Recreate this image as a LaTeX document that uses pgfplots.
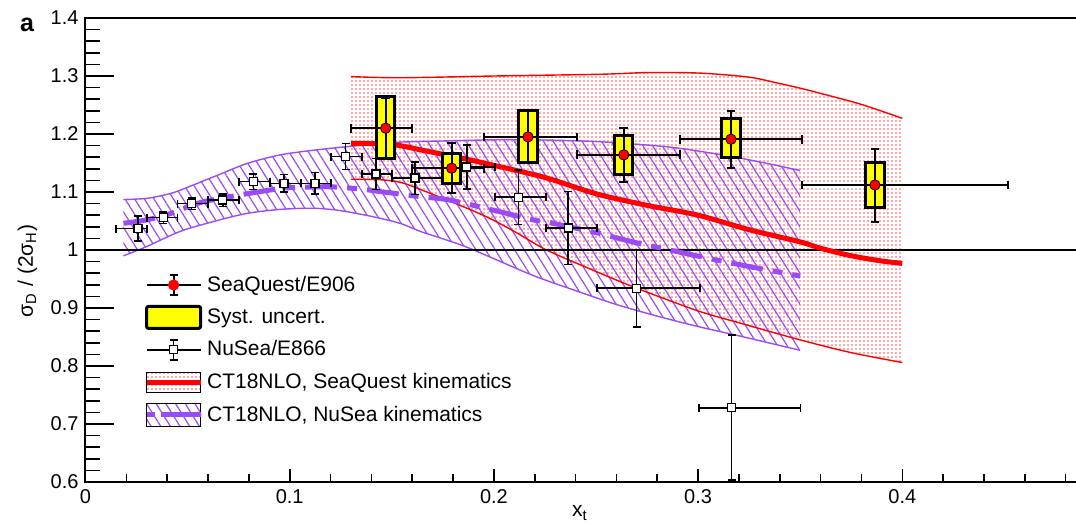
\documentclass[border=0pt]{standalone}
\usepackage{fontspec}
\setmainfont{Liberation Sans}
\usepackage{pgfplots}
\usepackage{pgfplotstable}
\pgfplotsset{compat=1.18}
\usepgfplotslibrary{fillbetween}
\usetikzlibrary{patterns.meta}
\definecolor{vio}{RGB}{155,75,245}
\definecolor{yel}{RGB}{255,255,0}
\definecolor{dotred}{RGB}{255,80,80}

\pgfplotstableread{
x      y      exm     exp     ey
0.0258 1.037  0.0110  0.0042  0.0215
0.0381 1.056  0.0081  0.0069  0.0100
0.0520 1.080  0.0070  0.0080  0.0100
0.0672 1.086  0.0072  0.0081  0.0110
0.0822 1.118  0.0069  0.0082  0.0135
0.0972 1.115  0.0068  0.0083  0.0155
0.1124 1.115  0.0069  0.0077  0.0185
0.1274 1.161  0.0072  0.0079  0.0225
0.1423 1.131  0.0070  0.0077  0.0270
0.1614 1.124  0.0114  0.0136  0.0280
0.1867 1.143  0.0117  0.0138  0.0380
0.2120 1.091  0.0115  0.0135  0.0470
0.2364 1.038  0.0109  0.0142  0.0630
0.2699 0.934  0.0193  0.0310  0.0670
0.3164 0.728  0.0159  0.0338  0.1250
}\nusea

\pgfplotstableread{
x      y      exm     exp     ey
0.1470 1.210  0.0170  0.0130  0.052
0.1793 1.141  0.0193  0.0157  0.043
0.2167 1.195  0.0217  0.0238  0.044
0.2636 1.164  0.0231  0.0274  0.046
0.3161 1.191  0.0251  0.0349  0.049
0.3866 1.112  0.0356  0.0650  0.063
}\seaquest

\begin{document}
\begin{tikzpicture}
\begin{axis}[
  at={(0pt,0pt)}, anchor=south west,
  scale only axis, width=500.3pt, height=232pt,
  xmin=0, xmax=0.49, ymin=0.6, ymax=1.4,
  axis line style={black, line width=1pt},
  xtick pos=bottom, ytick pos=left,
  tick align=inside,
  xtick={0,0.1,0.2,0.3,0.4},
  xticklabels={0,0.1,0.2,0.3,0.4},
  minor xtick={0.02,0.04,0.06,0.08,0.12,0.14,0.16,0.18,0.22,0.24,0.26,0.28,0.32,0.34,0.36,0.38,0.42,0.44,0.46,0.48},
  ytick={0.6,0.7,0.8,0.9,1,1.1,1.2,1.3,1.4},
  yticklabels={0.6,0.7,0.8,0.9,1,1.1,1.2,1.3,1.4},
  minor y tick num=4,
  xtick style={black, line width=0.8pt, /pgfplots/major tick length=6.5pt, /pgfplots/minor tick length=4pt},
  ytick style={black, line width=0.8pt, /pgfplots/major tick length=14pt, /pgfplots/minor tick length=7pt},
  tick label style={font=\fontsize{10}{12}\selectfont},
  /pgf/number format/assume math mode=true,
  xlabel={x\textsubscript{t}},
  ylabel={σ\textsubscript{D} / (2σ\textsubscript{H})},
  label style={font=\fontsize{10.5}{12.6}\selectfont},
  xlabel style={at={(axis description cs:0.494,-0.067)}, anchor=center},
  ylabel style={at={(axis description cs:-0.058,0.455)}, anchor=center},
  legend style={at={(axis cs:0.0285,0.8276)}, anchor=west, draw=none, fill=none,
    inner sep=0pt, row sep=3.2pt, font=\fontsize{10.5}{12.6}\selectfont},
  legend cell align=left,
]
% CT18 SeaQuest band
\addplot[name path=rU, red, line width=0.7pt, smooth, forget plot] coordinates {
(0.13,1.299)(0.154,1.297)(0.2,1.300)(0.252,1.303)(0.276,1.306)(0.301,1.305)(0.325,1.298)(0.34,1.287)(0.35,1.279)(0.36,1.270)(0.38,1.251)(0.4,1.227)};
\addplot[name path=rL, red, line width=0.7pt, smooth, forget plot] coordinates {
(0.13,1.122)(0.145,1.121)(0.155,1.116)(0.165,1.103)(0.18,1.082)(0.1965,1.057)(0.21,1.032)(0.2258,1.0)(0.25,0.963)(0.27,0.934)(0.30,0.895)(0.3205,0.874)(0.35,0.845)(0.375,0.823)(0.4,0.806)};
\addplot[pattern={Dots[distance=2pt, radius=0.4pt]}, pattern color=dotred, forget plot] fill between[of=rU and rL];
% CT18 NuSea band
\addplot[name path=pU, vio, line width=0.7pt, smooth, forget plot] coordinates {
(0.0186,1.087)(0.03,1.089)(0.04,1.096)(0.0463,1.103)(0.0626,1.126)(0.079,1.149)(0.0953,1.164)(0.1116,1.172)(0.1246,1.177)(0.14,1.182)(0.154,1.186)(0.175,1.188)(0.2,1.190)(0.219,1.190)(0.25,1.187)(0.2847,1.178)(0.31,1.165)(0.33,1.152)(0.35,1.137)};
\addplot[name path=pL, vio, line width=0.7pt, smooth, forget plot] coordinates {
(0.0186,0.990)(0.03,1.006)(0.0463,1.032)(0.0626,1.049)(0.079,1.063)(0.0953,1.070)(0.1116,1.072)(0.1246,1.068)(0.14,1.058)(0.154,1.046)(0.164,1.032)(0.1736,1.021)(0.1867,1.005)(0.2,0.985)(0.22,0.955)(0.24,0.930)(0.26,0.906)(0.28,0.886)(0.30,0.868)(0.32,0.852)(0.35,0.827)};
\addplot[pattern={Lines[angle=-58, distance=4.1pt, line width=0.6pt]}, pattern color=vio, forget plot] fill between[of=pU and pL];
% line at 1
\addplot[black, line width=0.75pt, forget plot] coordinates {(0,1) (0.49,1)};
% central curves
\addplot[red, line width=2.5pt, smooth, forget plot] coordinates {
(0.13,1.184)(0.15,1.182)(0.165,1.172)(0.175,1.165)(0.19,1.154)(0.2,1.146)(0.225,1.125)(0.25,1.097)(0.275,1.077)(0.3,1.060)(0.325,1.035)(0.35,1.014)(0.36,1.003)(0.375,0.990)(0.39,0.981)(0.4,0.977)};
\addplot[vio, line width=2.5pt, smooth, dash pattern=on 16pt off 5pt on 5pt off 5pt, forget plot] coordinates {
(0.0186,1.046)(0.03,1.052)(0.04,1.061)(0.052,1.077)(0.06,1.085)(0.0757,1.095)(0.0953,1.106)(0.105,1.108)(0.12,1.109)(0.135,1.105)(0.146,1.100)(0.164,1.092)(0.1785,1.086)(0.203,1.066)(0.219,1.052)(0.2275,1.047)(0.25,1.030)(0.268,1.014)(0.294,0.994)(0.317,0.977)(0.35,0.955)};
% NuSea data
\addplot[black, line width=0.8pt, only marks, mark=square*, mark size=2pt,
  mark options={fill=white, draw=black, line width=0.7pt}, forget plot,
  error bars/.cd, x dir=both, x explicit, y dir=both, y explicit,
  error bar style={line width=0.8pt, black},
  error mark options={rotate=90, mark size=2pt, line width=0.8pt, black}]
  table[x=x, y=y, x error plus=exp, x error minus=exm, y error=ey] {\nusea};
% systematic boxes
\addplot[fill=yel, draw=black, line width=1.5pt, forget plot] coordinates {(0.1425,1.157)(0.1515,1.157)(0.1515,1.264)(0.1425,1.264)} -- cycle;
\addplot[fill=yel, draw=black, line width=1.5pt, forget plot] coordinates {(0.1748,1.115)(0.1838,1.115)(0.1838,1.166)(0.1748,1.166)} -- cycle;
\addplot[fill=yel, draw=black, line width=1.5pt, forget plot] coordinates {(0.2122,1.151)(0.2212,1.151)(0.2212,1.240)(0.2122,1.240)} -- cycle;
\addplot[fill=yel, draw=black, line width=1.5pt, forget plot] coordinates {(0.2591,1.131)(0.2681,1.131)(0.2681,1.197)(0.2591,1.197)} -- cycle;
\addplot[fill=yel, draw=black, line width=1.5pt, forget plot] coordinates {(0.3116,1.159)(0.3206,1.159)(0.3206,1.226)(0.3116,1.226)} -- cycle;
\addplot[fill=yel, draw=black, line width=1.5pt, forget plot] coordinates {(0.3821,1.073)(0.3911,1.073)(0.3911,1.151)(0.3821,1.151)} -- cycle;
% SeaQuest data
\addplot[black, line width=1pt, only marks, mark=*, mark size=2.6pt,
  mark options={fill=red, draw=black, line width=0.4pt}, forget plot,
  error bars/.cd, x dir=both, x explicit, y dir=both, y explicit,
  error bar style={line width=1pt, black},
  error mark options={rotate=90, mark size=2.2pt, line width=1pt, black}]
  table[x=x, y=y, x error plus=exp, x error minus=exm, y error=ey] {\seaquest};
% legend
\addlegendimage{legend image code/.code={
  \draw[black, line width=1pt] (0pt,0pt) -- (27pt,0pt);
  \draw[black, line width=1pt] (13.5pt,-5pt) -- (13.5pt,5pt);
  \draw[black, line width=1pt] (11.5pt,5pt) -- (15.5pt,5pt);
  \draw[black, line width=1pt] (11.5pt,-5pt) -- (15.5pt,-5pt);
  \fill[red] (13.5pt,0pt) circle (2.6pt);}}
\addlegendentry{SeaQuest/E906}
\addlegendimage{legend image code/.code={
  \draw[black, line width=1.5pt, fill=yel, rounded corners=1pt] (0pt,-5.5pt) rectangle (27pt,5.5pt);}}
\addlegendentry{Syst. uncert.}
\addlegendimage{legend image code/.code={
  \draw[black, line width=0.8pt] (0pt,0pt) -- (27pt,0pt);
  \draw[black, line width=0.8pt] (13.5pt,-5pt) -- (13.5pt,5pt);
  \draw[black, line width=0.8pt] (11.5pt,5pt) -- (15.5pt,5pt);
  \draw[black, line width=0.8pt] (11.5pt,-5pt) -- (15.5pt,-5pt);
  \draw[black, fill=white, line width=0.7pt] (11.5pt,-2pt) rectangle (15.5pt,2pt);}}
\addlegendentry{NuSea/E866}
\addlegendimage{legend image code/.code={
  \fill[pattern={Dots[distance=2pt, radius=0.4pt]}, pattern color=dotred] (0pt,-5pt) rectangle (27pt,5pt);
  \draw[red, line width=2.5pt] (0pt,0pt) -- (27pt,0pt);}}
\addlegendentry{CT18NLO, SeaQuest kinematics}
\addlegendimage{legend image code/.code={
  \fill[pattern={Lines[angle=-58, distance=4.1pt, line width=0.6pt]}, pattern color=vio] (0pt,-5.75pt) rectangle (27pt,5.75pt);
  \draw[vio, line width=2.5pt, dash pattern=on 4pt off 3pt on 20pt off 0pt] (0pt,0pt) -- (27pt,0pt);}}
\addlegendentry{CT18NLO, NuSea kinematics}
\end{axis}
\node[font=\bfseries\fontsize{12.5}{14}\selectfont, anchor=center] at (-29.25pt,228.5pt) {a};
\pgfresetboundingbox
\useasboundingbox (-42.75pt,-21.5pt) rectangle (495.25pt,241pt);
\end{tikzpicture}
\end{document}
